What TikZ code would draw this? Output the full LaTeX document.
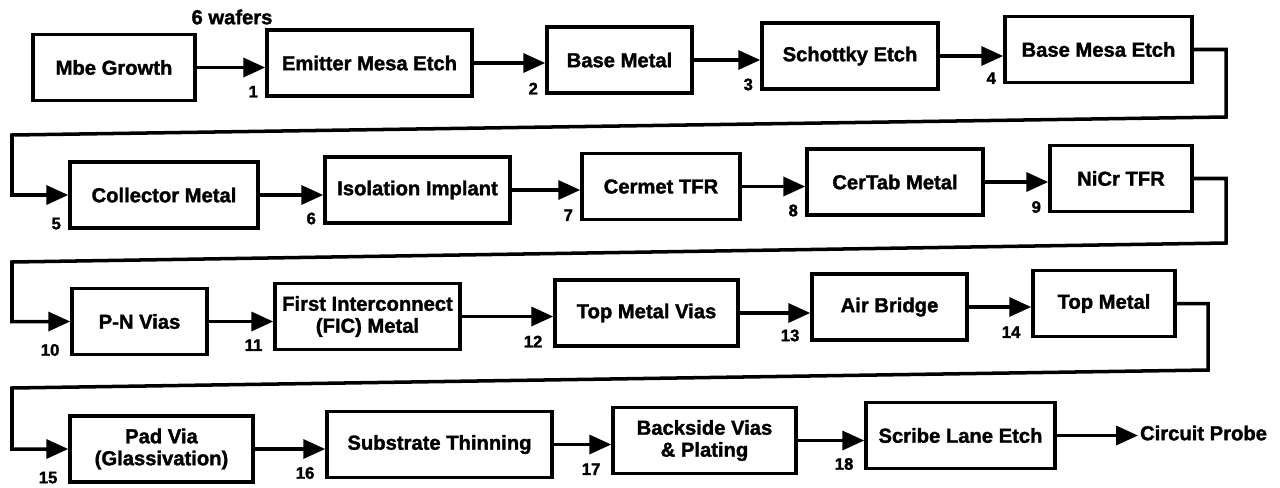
\documentclass[tikz,border=0pt]{standalone}
\usepackage{fontspec}
\setmainfont{Liberation Sans}[BoldFeatures={FakeBold=1.6}]
\usetikzlibrary{arrows.meta, positioning}

\begin{document}
\begin{tikzpicture}[x=0.02cm, y=-0.02cm, >={Triangle[length=0.44cm, width=0.38cm]},
  stage/.style={draw, line width=2pt, minimum height=1.32cm, align=center,
    inner sep=2pt, font=\fontsize{11.5}{12.5}\selectfont\bfseries},
  flow/.style={->, line width=2pt},
  num/.style={font=\fontsize{9.5}{10}\selectfont\bfseries, inner sep=0pt, anchor=south east}]
  \useasboundingbox (0,0) rectangle (1280,487);
  % row 1
  \node[stage, minimum width=3.24cm] (mbe) at (114,67.5) {Mbe Growth};
  \node[stage, minimum width=4.10cm] (eme) at (369.5,63) {Emitter Mesa Etch};
  \node[stage, minimum width=2.90cm] (bm) at (619.5,60) {Base Metal};
  \node[stage, minimum width=3.52cm] (se) at (850,56) {Schottky Etch};
  \node[stage, minimum width=3.74cm] (bme) at (1098.5,49.5) {Base Mesa Etch};
  \node[font=\fontsize{11.5}{12.5}\selectfont\bfseries] (wf) at (232,17) {6 wafers};
  % row 2
  \node[stage, minimum width=3.76cm] (cm) at (164,195) {Collector Metal};
  \node[stage, minimum width=3.70cm] (ii) at (417.5,190) {Isolation Implant};
  \node[stage, minimum width=3.16cm] (ct) at (661,186.5) {Cermet TFR};
  \node[stage, minimum width=3.52cm] (ctm) at (895,182) {CerTab Metal};
  \node[stage, minimum width=2.84cm] (nicr) at (1121,178.5) {NiCr TFR};
  % row 3
  \node[stage, minimum width=2.70cm] (pn) at (139.5,321.5) {P-N Vias};
  \node[stage, minimum width=3.70cm] (fic) at (367.5,316.5) {First Interconnect\\(FIC) Metal};
  \node[stage, minimum width=3.66cm] (tmv) at (646.5,313) {Top Metal Vias};
  \node[stage, minimum width=3.10cm] (ab) at (889.5,307) {Air Bridge};
  \node[stage, minimum width=2.84cm] (tm) at (1104,303.5) {Top Metal};
  % row 4
  \node[stage, minimum width=3.66cm] (pv) at (161.5,449) {Pad Via\\(Glassivation)};
  \node[stage, minimum width=4.50cm] (st) at (439.5,444.5) {Substrate Thinning};
  \node[stage, minimum width=3.66cm] (bv) at (704.5,440.5) {Backside Vias\\\& Plating};
  \node[stage, minimum width=3.78cm] (sle) at (960.5,435.5) {Scribe Lane Etch};
  \node[font=\fontsize{11.5}{12.5}\selectfont\bfseries, anchor=west, inner sep=1pt] (cp) at (1138,433) {Circuit Probe};

  % step numbers
  \node[num] (n1) at ([xshift=-4pt]eme.south west) {1};
  \node[num] (n2) at ([xshift=-4pt]bm.south west) {2};
  \node[num] (n3) at ([xshift=-4pt]se.south west) {3};
  \node[num] (n4) at ([xshift=-4pt]bme.south west) {4};
  \node[num] (n5) at ([xshift=-4pt]cm.south west) {5};
  \node[num] (n6) at ([xshift=-4pt]ii.south west) {6};
  \node[num] (n7) at ([xshift=-4pt]ct.south west) {7};
  \node[num] (n8) at ([xshift=-4pt]ctm.south west) {8};
  \node[num] (n9) at ([xshift=-4pt]nicr.south west) {9};
  \node[num] (n10) at ([xshift=-6pt]pn.south west) {10};
  \node[num] (n11) at ([xshift=-6pt]fic.south west) {11};
  \node[num] (n12) at ([xshift=-6pt]tmv.south west) {12};
  \node[num] (n13) at ([xshift=-6pt]ab.south west) {13};
  \node[num] (n14) at ([xshift=-6pt]tm.south west) {14};
  \node[num] (n15) at ([xshift=-6pt]pv.south west) {15};
  \node[num] (n16) at ([xshift=-6pt]st.south west) {16};
  \node[num] (n17) at ([xshift=-6pt]bv.south west) {17};
  \node[num] (n18) at ([xshift=-6pt]sle.south west) {18};

  % flow along the rows
  \draw[flow] (mbe.east) -- (mbe.east -| eme.west);
  \draw[flow] (eme.east) -- (eme.east -| bm.west);
  \draw[flow] (bm.east) -- (bm.east -| se.west);
  \draw[flow] (se.east) -- (se.east -| bme.west);
  \draw[flow] (cm.east) -- (cm.east -| ii.west);
  \draw[flow] (ii.east) -- (ii.east -| ct.west);
  \draw[flow] (ct.east) -- (ct.east -| ctm.west);
  \draw[flow] (ctm.east) -- (ctm.east -| nicr.west);
  \draw[flow] (pn.east) -- (pn.east -| fic.west);
  \draw[flow] (fic.east) -- (fic.east -| tmv.west);
  \draw[flow] (tmv.east) -- (tmv.east -| ab.west);
  \draw[flow] (ab.east) -- (ab.east -| tm.west);
  \draw[flow] (pv.east) -- (pv.east -| st.west);
  \draw[flow] (st.east) -- (st.east -| bv.west);
  \draw[flow] (bv.east) -- (bv.east -| sle.west);
  \draw[flow] (sle.east) -- (sle.east -| cp.west);

  % wrap-around returns
  \coordinate (k1) at (1226,117);
  \coordinate (k2) at (12,135);
  \coordinate (k3) at (1226,243);
  \coordinate (k4) at (12,262);
  \coordinate (k5) at (1208,370);
  \coordinate (k6) at (12,388);
  \draw[flow] (bme.east) -| (k1) -- (k2) |- (cm.west);
  \draw[flow] (nicr.east) -| (k3) -- (k4) |- (pn.west);
  \draw[flow] (tm.east) -| (k5) -- (k6) |- (pv.west);
\end{tikzpicture}
\end{document}
